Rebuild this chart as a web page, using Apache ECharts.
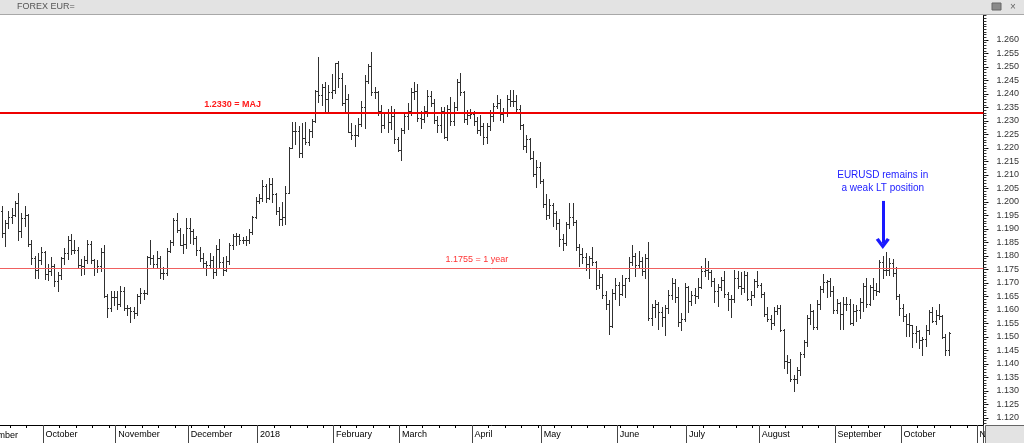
<!DOCTYPE html>
<html><head><meta charset="utf-8">
<script src="https://cdn.jsdelivr.net/npm/echarts@6/dist/echarts.min.js"></script>
<style>html,body{margin:0;padding:0;background:#fff;overflow:hidden}#c{width:1024px;height:443px}</style>
</head><body><div id="c"></div>
<script>
// Daily EUR/USD bars, 13 Sep 2017 .. 19 Oct 2018 (weekdays)
const opens = [
 1.1965,1.1884,1.1921,1.1943,1.1952,1.1995,1.1893,1.1940,1.1951,1.1845,1.1792,1.1747,1.1787,
 1.1815,1.1733,1.1743,1.1762,1.1706,1.1730,1.1793,1.1810,1.1861,1.1824,1.1821,1.1766,1.1762,1.1786,1.1845,1.1785,1.1757,1.1763,1.1815,1.1653,1.1609,1.1647,
 1.1648,1.1623,1.1669,1.1607,1.1608,1.1595,1.1589,1.1652,1.1664,1.1664,1.1795,1.1791,1.1771,1.1793,1.1736,1.1737,1.1820,1.1853,1.1932,1.1897,1.1842,1.1846,
 1.1903,1.1893,1.1865,1.1822,1.1793,1.1774,1.1765,1.1786,1.1741,1.1827,1.1776,1.1750,1.1783,1.1839,1.1875,1.1874,1.1859,1.1861,1.1859,1.1888,1.1944,
 1.2005,1.2013,1.2058,1.2016,1.2068,1.2030,1.1968,1.1937,1.1946,1.2034,1.2201,1.2263,1.2262,1.2183,1.2238,1.2224,1.2262,1.2299,1.2410,1.2395,1.2427,1.2381,1.2409,
 1.2413,1.2513,1.2460,1.2365,1.2382,1.2261,1.2248,1.2250,1.2290,1.2353,1.2447,1.2505,1.2407,1.2406,1.2337,1.2286,1.2331,1.2296,1.2317,1.2232,
 1.2193,1.2268,1.2318,1.2337,1.2409,1.2410,1.2312,1.2308,1.2336,1.2393,1.2368,1.2304,1.2287,1.2336,1.2239,1.2343,1.2299,1.2352,1.2445,1.2407,1.2306,1.2322,
 1.2325,1.2301,1.2268,1.2280,1.2240,1.2282,1.2318,1.2356,1.2367,1.2327,1.2330,1.2380,1.2373,1.2374,1.2345,1.2287,1.2208,1.2233,1.2164,1.2105,1.2130,
 1.2078,1.1991,1.1952,1.1989,1.1960,1.1923,1.1863,1.1850,1.1917,1.1944,1.1925,1.1833,1.1809,1.1796,1.1770,1.1792,1.1778,1.1694,1.1721,1.1656,1.1623,1.1539,1.1662,
 1.1693,1.1660,1.1693,1.1720,1.1777,1.1799,1.1767,1.1783,1.1746,1.1794,1.1570,1.1610,1.1623,1.1591,1.1574,1.1606,1.1655,1.1700,1.1649,1.1555,1.1566,
 1.1684,1.1632,1.1657,1.1651,1.1687,1.1743,1.1749,1.1741,1.1708,1.1670,1.1685,1.1711,1.1660,1.1640,1.1640,1.1720,1.1689,1.1683,1.1728,1.1641,1.1657,1.1706,
 1.1692,1.1658,1.1584,1.1566,1.1553,1.1595,1.1609,1.1525,1.1411,1.1406,1.1344,1.1343,1.1376,1.1438,1.1482,1.1570,1.1597,1.1538,1.1624,1.1678,1.1705,1.1707,1.1671,
 1.1601,1.1625,1.1584,1.1624,1.1624,1.1552,1.1595,1.1601,1.1628,1.1689,1.1624,1.1686,1.1674,1.1671,1.1779,1.1749,1.1747,1.1775,1.1738,1.1652,
 1.1606,1.1577,1.1549,1.1544,1.1513,1.1523,1.1489,1.1491,1.1526,1.1594,1.1561,1.1580,1.1576,1.1501,1.1452
];
const highs = [
 1.1984,1.1935,1.1968,1.1978,1.2005,1.2035,1.1960,1.1985,1.1955,1.1860,1.1800,1.1810,1.1835,
 1.1818,1.1770,1.1795,1.1770,1.1740,1.1795,1.1828,1.1875,1.1880,1.1860,1.1835,1.1790,1.1800,1.1860,1.1855,1.1790,1.1785,1.1830,1.1840,1.1660,1.1670,1.1670,
 1.1669,1.1688,1.1686,1.1620,1.1612,1.1610,1.1660,1.1680,1.1675,1.1800,1.1860,1.1805,1.1820,1.1800,1.1760,1.1830,1.1860,1.1940,1.1960,1.1905,1.1880,1.1940,
 1.1940,1.1900,1.1875,1.1835,1.1810,1.1780,1.1810,1.1800,1.1840,1.1862,1.1795,1.1800,1.1850,1.1880,1.1885,1.1880,1.1870,1.1875,1.1900,1.1950,1.2020,
 1.2030,1.2081,1.2066,1.2089,1.2090,1.2035,1.1980,1.2000,1.2059,1.2203,1.2296,1.2295,1.2280,1.2293,1.2296,1.2272,1.2307,1.2413,1.2537,1.2436,1.2445,1.2435,1.2473,
 1.2516,1.2523,1.2477,1.2433,1.2400,1.2292,1.2285,1.2310,1.2374,1.2470,1.2510,1.2555,1.2425,1.2410,1.2360,1.2335,1.2345,1.2355,1.2346,1.2240,
 1.2275,1.2335,1.2367,1.2422,1.2446,1.2437,1.2336,1.2355,1.2413,1.2410,1.2380,1.2320,1.2352,1.2353,1.2360,1.2389,1.2371,1.2455,1.2476,1.2411,1.2340,1.2345,
 1.2336,1.2315,1.2324,1.2293,1.2292,1.2340,1.2365,1.2397,1.2380,1.2348,1.2396,1.2413,1.2414,1.2398,1.2358,1.2290,1.2250,1.2238,1.2189,1.2155,1.2150,
 1.2085,1.2029,1.2010,1.1995,1.1965,1.1937,1.1880,1.1925,1.1997,1.1996,1.1935,1.1843,1.1830,1.1810,1.1800,1.1834,1.1780,1.1750,1.1735,1.1672,1.1636,1.1676,1.1720,
 1.1705,1.1730,1.1720,1.1795,1.1840,1.1810,1.1817,1.1796,1.1808,1.1852,1.1622,1.1637,1.1630,1.1610,1.1620,1.1675,1.1720,1.1715,1.1685,1.1590,1.1700,
 1.1690,1.1670,1.1680,1.1720,1.1764,1.1791,1.1780,1.1750,1.1720,1.1698,1.1721,1.1745,1.1667,1.1657,1.1750,1.1745,1.1740,1.1745,1.1740,1.1670,1.1716,1.1745,
 1.1700,1.1665,1.1610,1.1581,1.1610,1.1620,1.1620,1.1530,1.1433,1.1420,1.1360,1.1390,1.1446,1.1490,1.1580,1.1622,1.1600,1.1636,1.1690,1.1733,1.1710,1.1718,1.1690,
 1.1640,1.1630,1.1650,1.1650,1.1642,1.1622,1.1620,1.1645,1.1700,1.1720,1.1693,1.1720,1.1700,1.1787,1.1800,1.1815,1.1794,1.1790,1.1760,1.1660,
 1.1622,1.1585,1.1590,1.1546,1.1540,1.1525,1.1500,1.1545,1.1600,1.1610,1.1600,1.1621,1.1580,1.1510,1.1520
];
const lows = [
 1.1870,1.1838,1.1903,1.1922,1.1950,1.1861,1.1870,1.1910,1.1836,1.1770,1.1718,1.1720,1.1770,
 1.1715,1.1712,1.1730,1.1690,1.1669,1.1715,1.1770,1.1790,1.1806,1.1810,1.1760,1.1730,1.1735,1.1775,1.1775,1.1730,1.1740,1.1745,1.1648,1.1574,1.1595,1.1620,
 1.1605,1.1615,1.1600,1.1580,1.1554,1.1570,1.1580,1.1625,1.1640,1.1660,1.1770,1.1760,1.1760,1.1720,1.1715,1.1730,1.1815,1.1840,1.1890,1.1840,1.1810,1.1830,
 1.1850,1.1845,1.1805,1.1780,1.1755,1.1730,1.1760,1.1720,1.1730,1.1760,1.1730,1.1745,1.1770,1.1825,1.1840,1.1845,1.1850,1.1840,1.1850,1.1880,1.1940,
 1.1995,1.2004,1.2000,1.2010,1.2000,1.1955,1.1915,1.1916,1.1920,1.2032,1.2201,1.2215,1.2165,1.2165,1.2215,1.2212,1.2240,1.2295,1.2370,1.2360,1.2335,1.2337,1.2385,
 1.2405,1.2425,1.2360,1.2336,1.2260,1.2235,1.2206,1.2245,1.2280,1.2274,1.2440,1.2395,1.2385,1.2321,1.2260,1.2275,1.2260,1.2270,1.2220,1.2190,
 1.2155,1.2254,1.2272,1.2324,1.2382,1.2300,1.2273,1.2295,1.2320,1.2355,1.2293,1.2258,1.2260,1.2238,1.2230,1.2284,1.2285,1.2340,1.2395,1.2295,1.2290,1.2310,
 1.2284,1.2255,1.2250,1.2215,1.2218,1.2265,1.2300,1.2347,1.2305,1.2295,1.2318,1.2355,1.2357,1.2330,1.2270,1.2195,1.2184,1.2160,1.2095,1.2055,1.2072,
 1.1983,1.1938,1.1940,1.1911,1.1899,1.1838,1.1823,1.1840,1.1905,1.1915,1.1822,1.1763,1.1775,1.1750,1.1717,1.1765,1.1676,1.1680,1.1645,1.1605,1.1510,1.1538,1.1640,
 1.1617,1.1655,1.1647,1.1707,1.1765,1.1727,1.1760,1.1730,1.1720,1.1563,1.1543,1.1575,1.1530,1.1540,1.1508,1.1590,1.1640,1.1630,1.1540,1.1527,1.1560,
 1.1591,1.1620,1.1625,1.1645,1.1680,1.1725,1.1715,1.1690,1.1631,1.1613,1.1675,1.1650,1.1600,1.1575,1.1630,1.1680,1.1660,1.1665,1.1637,1.1620,1.1650,1.1685,
 1.1650,1.1577,1.1560,1.1530,1.1545,1.1585,1.1522,1.1385,1.1365,1.1338,1.1301,1.1330,1.1360,1.1425,1.1468,1.1550,1.1528,1.1530,1.1605,1.1665,1.1650,1.1653,1.1590,
 1.1590,1.1530,1.1528,1.1600,1.1550,1.1545,1.1560,1.1570,1.1595,1.1610,1.1620,1.1640,1.1655,1.1665,1.1720,1.1730,1.1730,1.1725,1.1640,1.1580,
 1.1560,1.1505,1.1505,1.1463,1.1480,1.1460,1.1432,1.1465,1.1510,1.1555,1.1550,1.1565,1.1495,1.1432,1.1432
];
const closes = [
 1.1884,1.1921,1.1943,1.1952,1.1995,1.1893,1.1940,1.1951,1.1845,1.1792,1.1747,1.1787,1.1815,
 1.1733,1.1743,1.1762,1.1706,1.1730,1.1793,1.1810,1.1861,1.1824,1.1821,1.1766,1.1762,1.1786,1.1845,1.1785,1.1757,1.1763,1.1815,1.1653,1.1609,1.1647,1.1648,
 1.1623,1.1669,1.1607,1.1608,1.1595,1.1589,1.1652,1.1664,1.1664,1.1795,1.1791,1.1771,1.1793,1.1736,1.1737,1.1820,1.1853,1.1932,1.1897,1.1842,1.1846,1.1903,
 1.1893,1.1865,1.1822,1.1793,1.1774,1.1765,1.1786,1.1741,1.1827,1.1776,1.1750,1.1783,1.1839,1.1875,1.1874,1.1859,1.1861,1.1859,1.1888,1.1944,1.2005,
 1.2013,1.2058,1.2016,1.2068,1.2030,1.1968,1.1937,1.1946,1.2034,1.2201,1.2263,1.2262,1.2183,1.2238,1.2224,1.2262,1.2299,1.2410,1.2395,1.2427,1.2381,1.2409,1.2413,
 1.2513,1.2460,1.2365,1.2382,1.2261,1.2248,1.2250,1.2290,1.2353,1.2447,1.2505,1.2407,1.2406,1.2337,1.2286,1.2331,1.2296,1.2317,1.2232,1.2193,
 1.2268,1.2318,1.2337,1.2409,1.2410,1.2312,1.2308,1.2336,1.2393,1.2368,1.2304,1.2287,1.2336,1.2239,1.2343,1.2299,1.2352,1.2445,1.2407,1.2306,1.2322,1.2325,
 1.2301,1.2268,1.2280,1.2240,1.2282,1.2318,1.2356,1.2367,1.2327,1.2330,1.2380,1.2373,1.2374,1.2345,1.2287,1.2208,1.2233,1.2164,1.2105,1.2130,1.2078,
 1.1991,1.1952,1.1989,1.1960,1.1923,1.1863,1.1850,1.1917,1.1944,1.1925,1.1833,1.1809,1.1796,1.1770,1.1792,1.1778,1.1694,1.1721,1.1656,1.1623,1.1539,1.1662,1.1693,
 1.1660,1.1693,1.1720,1.1777,1.1799,1.1767,1.1783,1.1746,1.1794,1.1570,1.1610,1.1623,1.1591,1.1574,1.1606,1.1655,1.1700,1.1649,1.1555,1.1566,1.1684,
 1.1632,1.1657,1.1651,1.1687,1.1743,1.1749,1.1741,1.1708,1.1670,1.1685,1.1711,1.1660,1.1640,1.1640,1.1720,1.1689,1.1683,1.1728,1.1641,1.1657,1.1706,1.1692,
 1.1658,1.1584,1.1566,1.1553,1.1595,1.1609,1.1525,1.1411,1.1406,1.1344,1.1343,1.1376,1.1438,1.1482,1.1570,1.1597,1.1538,1.1624,1.1678,1.1705,1.1707,1.1671,1.1601,
 1.1625,1.1584,1.1624,1.1624,1.1552,1.1595,1.1601,1.1628,1.1689,1.1624,1.1686,1.1674,1.1671,1.1779,1.1749,1.1747,1.1775,1.1738,1.1652,1.1606,
 1.1577,1.1549,1.1544,1.1513,1.1523,1.1489,1.1491,1.1526,1.1594,1.1561,1.1580,1.1576,1.1501,1.1452,1.1513
];
const yTickLabels = [1.120,1.125,1.130,1.135,1.140,1.145,1.150,1.155,1.160,1.165,1.170,1.175,1.180,1.185,1.190,
  1.195,1.200,1.205,1.210,1.215,1.220,1.225,1.230,1.235,1.240,1.245,1.250,1.255,1.260];
const monthNames = ['2018','February','March','April','May','June','July','August','September','October','November','December'];
const levelMaj = 1.2330, levelYear = 1.1755;
const annotText = 'EURUSD remains in\na weak LT position';

// categories: every weekday from 13 Sep 2017 to 2 Nov 2018
const categories = [];
for (let d = new Date(Date.UTC(2017,8,13)); d <= new Date(Date.UTC(2018,10,2)); d.setUTCDate(d.getUTCDate()+1)) {
  const wd = d.getUTCDay(); if (wd === 0 || wd === 6) continue;
  categories.push(d.toISOString().slice(0,10));
}
const isMonthStart = i => i > 0 && categories[i] && categories[i].slice(0,7) !== categories[i-1].slice(0,7);
const isWeekStart = i => categories[i] && new Date(categories[i] + 'T00:00:00Z').getUTCDay() === 1;
const monthLabel = v => monthNames[parseInt(v.slice(5,7),10)-1];

const minorTicks = [];
for (let k = 1118; k <= 1269; k++) minorTicks.push(k/1000);

const ohlc = opens.map((o,i) => [i, o, highs[i], lows[i], closes[i]]);

const FONT = 'Liberation Sans, Arial, sans-serif';
const chart = echarts.init(document.getElementById('c'), null, {renderer:'canvas'});
const yMin = 1.11741, yMax = 1.26926;

chart.setOption({
  animation: false,
  backgroundColor: '#ffffff',
  grid: {left: 0, right: 39, top: 15, bottom: 18, containLabel: false},
  xAxis: [
    {type:'category', data: categories, boundaryGap: true, position:'bottom',
     axisLine:{show:true, lineStyle:{color:'#000', width:1}},
     axisTick:{show:true, interval:(i)=>isWeekStart(i), length:3, lineStyle:{color:'#000'}},
     axisLabel:{show:false}, splitLine:{show:false}},
    {type:'category', data: categories, boundaryGap: true, position:'bottom',
     axisLine:{show:false},
     axisTick:{show:true, interval:(i)=>isMonthStart(i), length:18, lineStyle:{color:'#444'}},
     axisLabel:{show:true, interval:(i)=>isMonthStart(i), formatter:(v)=>monthLabel(v), align:'left',
       margin:5, fontSize:9, fontFamily:FONT, color:'#000', padding:[0,0,0,1]},
     splitLine:{show:false}}
  ],
  yAxis: [
    {type:'value', position:'right', min:yMin, max:yMax, scale:true,
     axisLine:{show:true, lineStyle:{color:'#000', width:1}},
     axisTick:{show:true, customValues: yTickLabels, length:5, lineStyle:{color:'#000'}},
     axisLabel:{show:true, customValues: yTickLabels, formatter:(v)=>v.toFixed(3), margin:13,
       fontSize:9, fontFamily:FONT, color:'#333', align:'left'},
     splitLine:{show:false}},
    {type:'value', position:'right', min:yMin, max:yMax, scale:true,
     axisLine:{show:false},
     axisTick:{show:true, customValues: minorTicks, length:3, lineStyle:{color:'#333'}},
     axisLabel:{show:false}, splitLine:{show:false}}
  ],
  series: [{
    type:'custom', xAxisIndex:0, yAxisIndex:0, clip:true,
    data: ohlc, encode:{x:0, y:[1,2,3,4]},
    renderItem: function(params, api) {
      const i = api.value(0);
      const po = api.coord([i, api.value(1)]);
      const ph = api.coord([i, api.value(2)]);
      const pl = api.coord([i, api.value(3)]);
      const pc = api.coord([i, api.value(4)]);
      const x = Math.round(po[0]) + 0.5;
      const yo = Math.round(po[1]) + 0.5, yc = Math.round(pc[1]) + 0.5;
      const st = {stroke:'#303030', lineWidth:1};
      return {type:'group', children:[
        {type:'line', shape:{x1:x, y1:Math.round(ph[1]), x2:x, y2:Math.round(pl[1])+1}, style:st},
        {type:'line', shape:{x1:x-1.5, y1:yo, x2:x, y2:yo}, style:st},
        {type:'line', shape:{x1:x, y1:yc, x2:x+1.5, y2:yc}, style:st}
      ]};
    },
    markLine: {
      silent:true, symbol:['none','none'], animation:false, precision:4,
      label:{show:false},
      data:[
        {yAxis: levelMaj, lineStyle:{color:'#ee0000', width:2, type:'solid'}},
        {yAxis: levelYear, lineStyle:{color:'#f06060', width:1, type:'solid'}},
        [
          {coord:[267, 1.2004], symbol:'none', lineStyle:{color:'#1a1aff', width:3, type:'solid'}},
          {coord:[267, 1.1846], symbol:'path://M6,0 L12,9 L9.5,10.5 L6,5 L2.5,10.5 L0,9 Z', symbolSize:[14,11],
           itemStyle:{color:'#1a1aff'}}
        ]
      ]
    },
    markPoint: {
      silent:true, animation:false, symbol:'circle', symbolSize:0,
      itemStyle:{color:'rgba(0,0,0,0)'},
      data:[
        {coord:[70, levelMaj], label:{show:true, position:'top', distance:4, formatter:'1.2330 = MAJ',
          fontSize:9, fontWeight:'bold', fontFamily:FONT, color:'#ff1a1a'}},
        {coord:[144, levelYear], label:{show:true, position:'top', distance:4, formatter:'1.1755 = 1 year',
          fontSize:9, fontFamily:FONT, color:'#ff3333'}},
        {coord:[267, 1.2074], label:{show:true, position:'inside', formatter:annotText, lineHeight:13,
          fontSize:10, fontFamily:FONT, color:'#2222ff', align:'center', verticalAlign:'middle'}}
      ]
    }
  }],
  graphic: [
    {type:'rect', left:0, top:0, z:100, shape:{x:0, y:0, width:1024, height:14}, style:{fill:'#e3e3e3'}},
    {type:'line', z:101, shape:{x1:0, y1:14.5, x2:1024, y2:14.5}, style:{stroke:'#a8a8a8', lineWidth:1}},
    {type:'text', z:102, x:17, y:7, style:{text:'FOREX EUR=', fontSize:9, fontFamily:FONT, fill:'#555', verticalAlign:'middle'}},
    {type:'rect', z:102, shape:{x:992, y:3, width:9, height:7}, style:{fill:'#8a8a8a', stroke:'#666', lineWidth:1}},
    {type:'text', z:102, x:1013, y:7, style:{text:'×', fontSize:10, fontFamily:FONT, fill:'#666', align:'center', verticalAlign:'middle'}},
    {type:'rect', z:100, shape:{x:985.5, y:425.5, width:40, height:20}, style:{fill:'#e3e3e3', stroke:'#666', lineWidth:1}},
    {type:'text', z:50, x:-26, y:431, style:{text:'September', fontSize:9, fontFamily:FONT, fill:'#000', verticalAlign:'top'}}
  ]
});
</script>
</body></html>
